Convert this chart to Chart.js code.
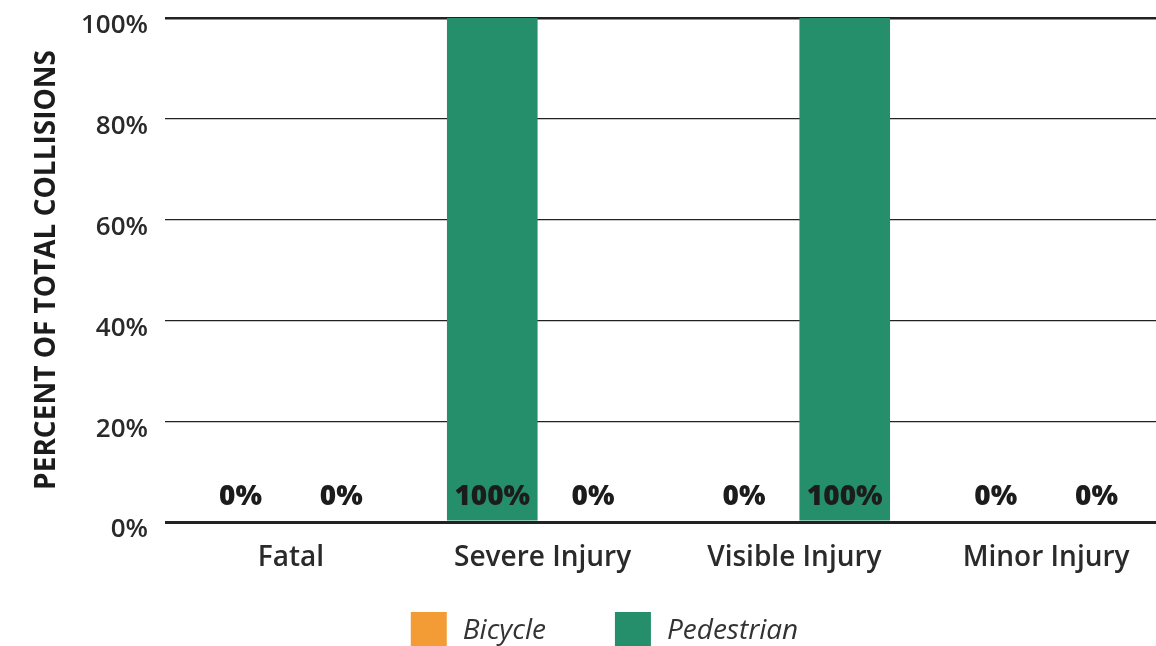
<!DOCTYPE html>
<html>
<head>
<meta charset="utf-8">
<script src="https://cdn.jsdelivr.net/npm/chart.js@4"></script>
<style>
  html, body { margin: 0; padding: 0; background: #fff; overflow: hidden; }
  #wrap { width: 1172px; height: 646px; position: relative; }
</style>
</head>
<body>
<div id="wrap"><canvas id="myChart"></canvas></div>
<script>
const categories = ["Fatal", "Severe Injury", "Visible Injury", "Minor Injury"];
const bicycle = [0, 100, 0, 0];
const pedestrian = [0, 0, 100, 0];
const yTicks = [0, 20, 40, 60, 80, 100];

const orange = "#f39c35";
const green = "#258f6b";
const bicycleColors = [orange, green, orange, orange];
const legendColors = [orange, green];

// value labels sit just above the baseline
const valueLabels = {
  id: "valueLabels",
  afterDatasetsDraw(chart) {
    const ctx = chart.ctx;
    const base = chart.scales.y.getPixelForValue(0);
    ctx.save();
    ctx.font = "800 28px 'Open Sans'";
    ctx.fillStyle = "#1c1c1c";
    ctx.textAlign = "center";
    ctx.textBaseline = "alphabetic";
    chart.data.datasets.forEach((ds, i) => {
      chart.getDatasetMeta(i).data.forEach((bar, j) => {
        ctx.fillText(ds.data[j] + "%", bar.x, base - 17);
      });
    });
    ctx.restore();
  }
};

// legend row under the axis labels
const bottomLegend = {
  id: "bottomLegend",
  afterDraw(chart) {
    const ctx = chart.ctx;
    const box = 36, gap = 16, spacing = 69;
    const y = chart.height - 34;
    ctx.save();
    ctx.font = "italic 28px 'Open Sans'";
    ctx.textBaseline = "middle";
    const items = chart.data.datasets.map((ds, i) => ({
      text: ds.label,
      color: legendColors[i],
      w: box + gap + ctx.measureText(ds.label).width
    }));
    const total = items.reduce((s, it) => s + it.w, 0) + spacing * (items.length - 1);
    let x = (chart.chartArea.left + chart.chartArea.right) / 2 - total / 2 - 64;
    items.forEach(it => {
      ctx.fillStyle = it.color;
      ctx.fillRect(x, y, box, box);
      ctx.fillStyle = "#333";
      ctx.fillText(it.text, x + box + gap, y + box / 2 + 1);
      x += it.w + spacing;
    });
    ctx.restore();
  }
};

const ctx = document.getElementById("myChart");

new Chart(ctx, {
  type: "bar",
  data: {
    labels: categories,
    datasets: [
      { label: "Bicycle", data: bicycle, backgroundColor: bicycleColors },
      { label: "Pedestrian", data: pedestrian, backgroundColor: green }
    ]
  },
  options: {
    responsive: true,
    maintainAspectRatio: false,
    animation: false,
    datasets: { bar: { categoryPercentage: 0.8, barPercentage: 0.9 } },
    layout: { padding: { top: 18, left: 30, right: 0, bottom: 0 } },
    plugins: {
      legend: { display: false },
      tooltip: { enabled: false }
    },
    scales: {
      x: {
        grid: { display: false },
        border: { display: false },
        ticks: {
          color: "#2a2a2a",
          padding: 11,
          font: { family: "'Open Sans'", size: 28, weight: "600" }
        },
        afterFit(scale) { scale.height = 124; }
      },
      y: {
        min: 0,
        max: 100,
        afterBuildTicks(scale) { scale.ticks = yTicks.map(v => ({ value: v })); },
        border: { display: false },
        grid: {
          drawTicks: false,
          color: "#222",
          lineWidth: c => (c.tick.value === 0 ? 3 : c.tick.value === 100 ? 2.5 : 1.2)
        },
        ticks: {
          color: "#2a2a2a",
          padding: 17,
          labelOffset: 8,
          font: { family: "'Open Sans'", size: 26, weight: "600" },
          callback: v => v + "%"
        },
        title: {
          display: true,
          text: "PERCENT OF TOTAL COLLISIONS",
          color: "#1c1c1c",
          padding: { top: 0, bottom: 10 },
          font: { family: "'Open Sans'", size: 28, weight: "bold" }
        },
        afterFit(scale) {
          scale.width = 135;
          scale.paddingTop = 0;
          scale.paddingBottom = 0;
        }
      }
    }
  },
  plugins: [valueLabels, bottomLegend]
});
</script>
</body>
</html>
